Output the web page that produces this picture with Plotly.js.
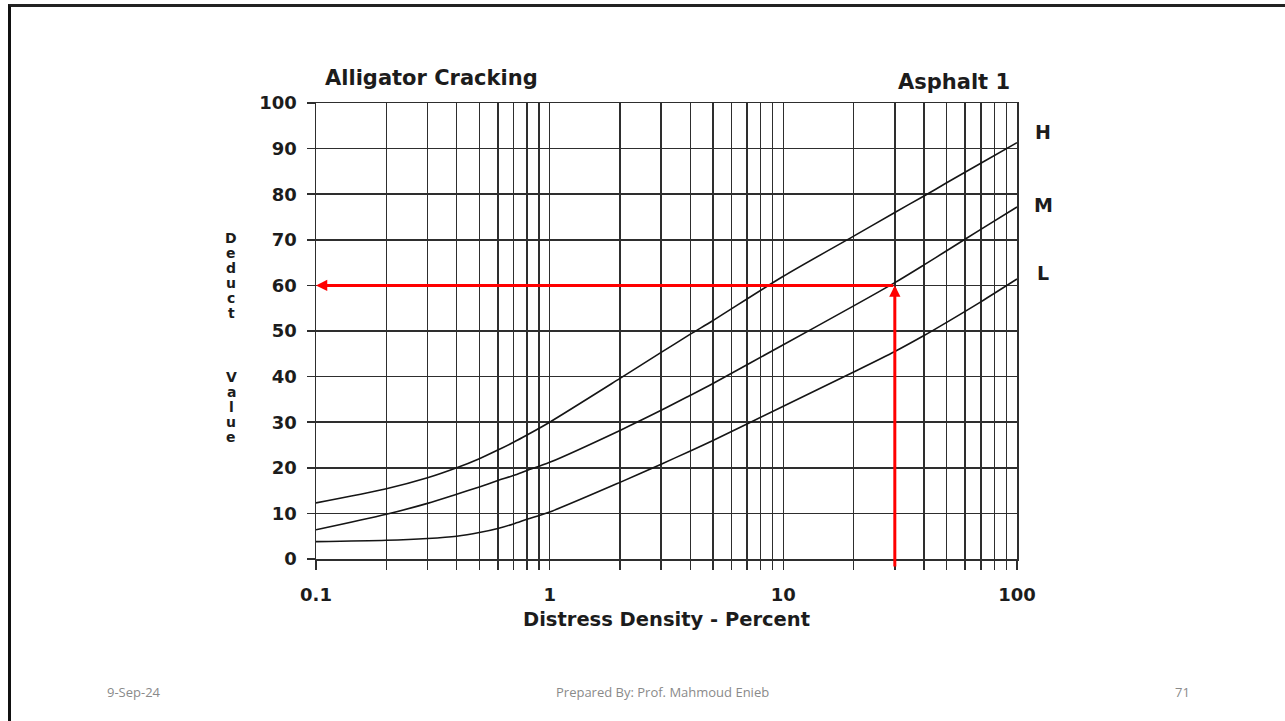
<!DOCTYPE html>
<html>
<head>
<meta charset="utf-8">
<script src="https://cdn.plot.ly/plotly-3.0.1.min.js"></script>
<style>
  html, body { margin: 0; padding: 0; background: #ffffff; }
  #slide { position: relative; width: 1285px; height: 721px; overflow: hidden; }
  #chart { position: absolute; left: 0; top: 0; width: 1285px; height: 721px; }
  #frame {
    position: absolute; left: 8px; top: 4px; width: 1290px; height: 730px;
    border-left: 3px solid #111; border-top: 3px solid #222;
    pointer-events: none; box-sizing: border-box;
  }
</style>
</head>
<body>
<div id="slide">
  <div id="chart"></div>
  <div id="frame"></div>
</div>
<script>
// Alligator cracking deduct curves (asphalt pavement), distress density in percent
const density = [0.1, 0.2, 0.3, 0.4, 0.5, 0.6, 0.7, 0.8, 1, 2, 3, 4, 5, 10, 20, 30, 40, 50, 70, 100];
const deductHigh   = [12.3, 15.4, 17.8, 20.0, 22.0, 23.9, 25.6, 27.2, 30.0, 39.6, 45.3, 49.3, 52.3, 62.0, 70.8, 76.0, 79.6, 82.5, 86.8, 91.3];
const deductMedium = [6.4, 9.8, 12.2, 14.2, 15.8, 17.2, 18.3, 19.4, 21.2, 28.2, 32.6, 35.9, 38.5, 47.0, 55.5, 60.6, 64.5, 67.6, 72.3, 77.2];
const deductLow    = [3.8, 4.1, 4.5, 5.0, 5.8, 6.7, 7.7, 8.7, 10.3, 16.8, 20.8, 23.7, 26.0, 33.5, 41.0, 45.5, 49.0, 51.9, 56.4, 61.4];
const severityLabels = ['H', 'M', 'L'];
const severityLabelY = [93.6, 77.6, 62.7];

// Worked example: 30 % medium-severity density gives a deduct value of 60
const readDensity = 30;
const readDeduct = 60;

// Axis ticks: every integer step in each log decade, labels only on decades
const xTickVals = [0.1,0.2,0.3,0.4,0.5,0.6,0.7,0.8,0.9,1,2,3,4,5,6,7,8,9,10,20,30,40,50,60,70,80,90,100];
const xTickText = xTickVals.map(v => (v === 0.1 || v === 1 || v === 10 || v === 100) ? String(v) : '');
const yTickVals = [0,10,20,30,40,50,60,70,80,90,100];

const chartTitle = 'Alligator Cracking';
const chartSubtitle = 'Asphalt 1';
const xTitle = 'Distress Density - Percent';
const yTitleLetters = ['D','e','d','u','c','t','V','a','l','u','e'];
const footerDate = '9-Sep-24';
const footerText = 'Prepared By: Prof. Mahmoud Enieb';
const footerPage = '71';

// plot area in page pixels
const W = 1285, H = 721;
const PL = 316, PR = 1017, PT = 103, PB = 559;
const px2x = p => (p - PL) / (PR - PL);
const px2y = p => (PB - p) / (PB - PT);

const ink = '#1c1c1c';
const boldFont = 'DejaVu Sans, Liberation Sans, Arial, sans-serif';

const curveStyle = { color: '#151515', width: 1.6, shape: 'spline', smoothing: 0.8 };
const traces = [deductHigh, deductMedium, deductLow].map((vals, i) => ({
  type: 'scatter', mode: 'lines', x: density, y: vals,
  name: severityLabels[i], line: curveStyle, hoverinfo: 'x+y+name'
}));

const annotations = [];

// title texts
annotations.push({ xref: 'paper', yref: 'paper', x: px2x(323), y: px2y(78), xanchor: 'left', yanchor: 'middle',
  text: chartTitle, showarrow: false, font: { family: boldFont, size: 21, color: ink, weight: 700 } });
annotations.push({ xref: 'paper', yref: 'paper', x: px2x(1012), y: px2y(82), xanchor: 'right', yanchor: 'middle',
  text: chartSubtitle, showarrow: false, font: { family: boldFont, size: 21, color: ink, weight: 700 } });

// severity labels at the right end of each curve
severityLabels.forEach((s, i) => annotations.push({
  xref: 'paper', yref: 'y', x: px2x(1043), y: severityLabelY[i], xanchor: 'center', yanchor: 'middle',
  text: s, showarrow: false, font: { family: boldFont, size: 19, color: ink, weight: 700 }
}));

// vertical, letter-stacked y-axis title
const letterY = [238, 253, 268, 283, 298, 313, 377, 392, 407, 422, 437];
yTitleLetters.forEach((ch, i) => annotations.push({
  xref: 'paper', yref: 'paper', x: px2x(231), y: px2y(letterY[i]), xanchor: 'center', yanchor: 'middle',
  text: ch, showarrow: false, font: { family: boldFont, size: 14, color: ink, weight: 700 }
}));

// red read-off arrows
annotations.push({ xref: 'x', yref: 'y', axref: 'x', ayref: 'y',
  x: Math.log10(readDensity), y: readDeduct, ax: Math.log10(readDensity), ay: -2,
  text: '', showarrow: true, arrowhead: 2, arrowsize: 0.75, arrowwidth: 3, arrowcolor: '#ff0000', standoff: 0 });
annotations.push({ xref: 'x', yref: 'y', axref: 'x', ayref: 'y',
  x: Math.log10(0.1), y: readDeduct, ax: Math.log10(readDensity), ay: readDeduct,
  text: '', showarrow: true, arrowhead: 2, arrowsize: 0.75, arrowwidth: 3, arrowcolor: '#ff0000', standoff: 0 });

// slide footer
const footFont = { family: 'Open Sans, Liberation Sans, sans-serif', size: 13, color: '#8a8a8a' };
[[footerDate, 134], [footerText, 662], [footerPage, 1182]].forEach(([t, cx]) => annotations.push({
  xref: 'paper', yref: 'paper', x: px2x(cx), y: px2y(692), xanchor: 'center', yanchor: 'middle',
  text: t, showarrow: false, font: footFont
}));

const gridColor = '#2e2e2e';
const layout = {
  width: W, height: H, autosize: false,
  margin: { l: PL, r: W - PR, t: PT, b: H - PB, pad: 0 },
  paper_bgcolor: '#ffffff', plot_bgcolor: '#ffffff',
  showlegend: false,
  xaxis: {
    type: 'log', range: [-1, 2], fixedrange: true,
    tickmode: 'array', tickvals: xTickVals, ticktext: xTickText,
    ticks: 'outside', ticklen: 9, tickwidth: 1.5, tickcolor: gridColor,
    showgrid: true, gridcolor: gridColor, gridwidth: 1.5,
    showline: true, mirror: true, linecolor: gridColor, linewidth: 1.5,
    zeroline: false, ticklabelstandoff: 10,
    tickfont: { family: boldFont, size: 18, color: ink, weight: 700 },
    title: { text: xTitle, standoff: 8, font: { family: boldFont, size: 19.5, color: ink, weight: 700 } }
  },
  yaxis: {
    range: [0, 100], fixedrange: true,
    tickmode: 'array', tickvals: yTickVals,
    ticks: 'outside', ticklen: 8, tickwidth: 1.5, tickcolor: gridColor,
    showgrid: true, gridcolor: gridColor, gridwidth: 1.5,
    showline: true, mirror: true, linecolor: gridColor, linewidth: 1.5,
    zeroline: false, ticklabelstandoff: 6,
    tickfont: { family: boldFont, size: 18, color: ink, weight: 700 }
  },
  annotations: annotations
};

Plotly.newPlot('chart', traces, layout, { staticPlot: true, displayModeBar: false });
</script>
</body>
</html>
